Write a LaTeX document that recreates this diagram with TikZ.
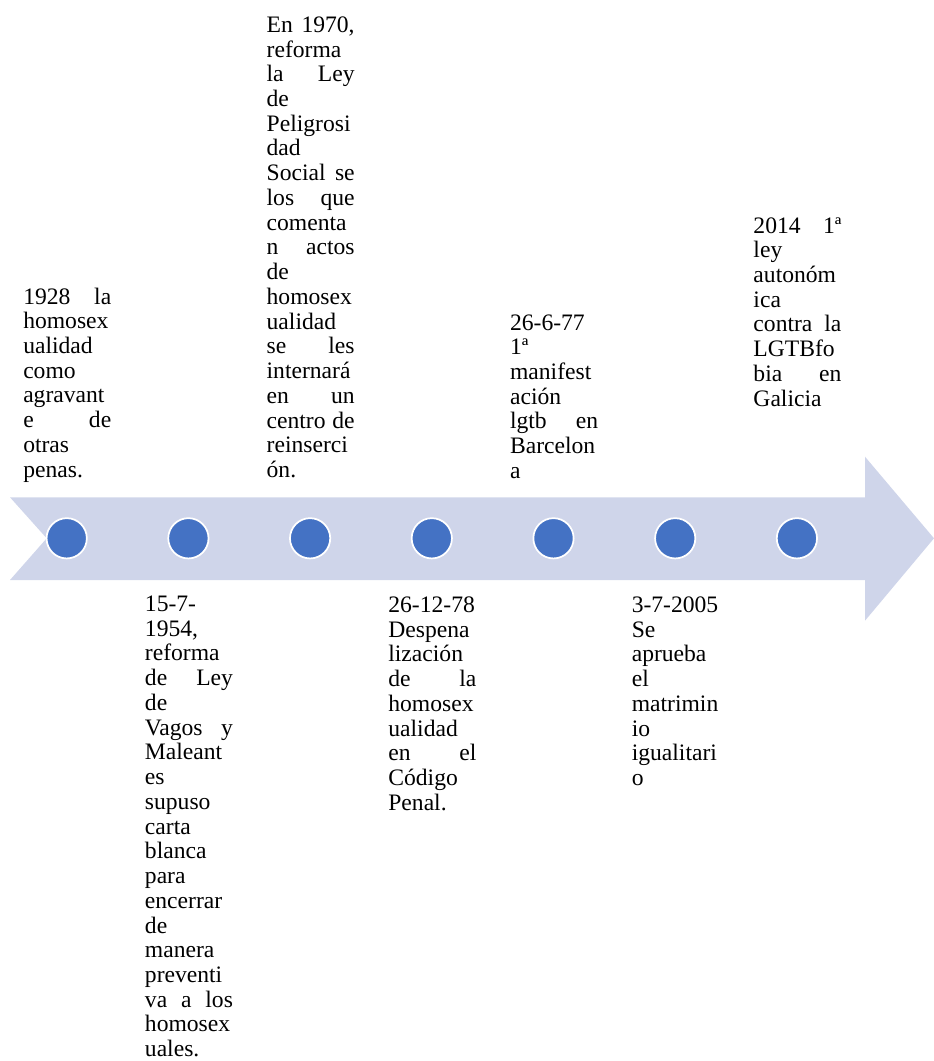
\documentclass[tikz,border=0pt]{standalone}
\usepackage{fontspec}
\setmainfont{Liberation Serif}
\usepackage{xcolor}
\usetikzlibrary{positioning}
\definecolor{bandblue}{HTML}{CFD5EA}
\definecolor{dotblue}{HTML}{4472C4}

\begin{document}
\begin{tikzpicture}[x=0.75pt,y=-0.75pt,node distance=91.275pt,on grid,
	dot/.style={circle,fill=dotblue,draw=white,line width=1.3pt,minimum size=30.2pt,inner sep=0pt},
	note/.style={anchor=base west,text width=66pt,align=left,inner sep=0pt,font=\fontsize{17.7}{18.55}\selectfont}]
			\useasboundingbox (0,0) rectangle (934,1061);
			\fill[bandblue] (10,497.3) -- (865,497.3) -- (865,456.7) -- (934,538.3) -- (865,620.7)
				-- (865,580) -- (10,580) -- (46.7,538.3) -- cycle;

			\node[dot] (d1) at (66.7,538.3) {};
			\node[dot] (d2) [right=of d1] {};
			\node[dot] (d3) [right=of d2] {};
			\node[dot] (d4) [right=of d3] {};
			\node[dot] (d5) [right=of d4] {};
			\node[dot] (d6) [right=of d5] {};
			\node[dot] (d7) [right=of d6] {};

			\node[note] (e1928) at (23,304) {1928\hfill la\\homosex\\ualidad\\como\\agravant\\e\hfill de\\otras\\penas.};
			\node[note] (e1954) at (144.7,611.5) {15-7-\\1954,\\reforma\\de\hfill Ley\\de\\Vagos\hfill y\\Maleant\\es\\supuso\\carta\\blanca\\para\\encerrar\\de\\manera\\preventi\\va\hfill a\hfill los\\homosex\\uales.};
			\node[note] (e1970) at (266.4,32.3) {En\hfill 1970,\\reforma\\la\hfill Ley\\de\\Peligrosi\\dad\\Social\hfill se\\los\hfill que\\comenta\\n\hfill actos\\de\\homosex\\ualidad\\se\hfill les\\internará\\en\hfill un\\centro\hfill de\\reinserci\\ón.};
			\node[note] (e1978) at (388.1,612.5) {26-12-78\\Despena\\lización\\de\hfill la\\homosex\\ualidad\\en\hfill el\\Código\\Penal.};
			\node[note] (e1977) at (509.8,330) {26-6-77\\1ª\\manifest\\ación\\lgtb\hfill en\\Barcelon\\a};
			\node[note] (e2005) at (631.5,612.5) {3-7-2005\\Se\\aprueba\\el\\matrimin\\io\\igualitari\\o};
			\node[note] (e2014) at (753.2,233) {2014\hfill 1ª\\ley\\autonóm\\ica\\contra\hfill la\\LGTBfo\\bia\hfill en\\Galicia};
			\end{tikzpicture}
\end{document}
